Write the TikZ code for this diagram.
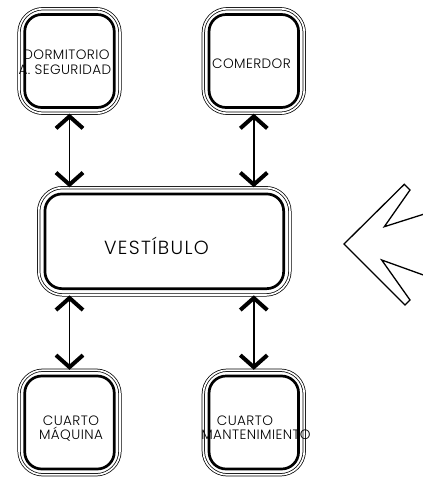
\documentclass[tikz,border=0pt]{standalone}
\usepackage{fontspec}
\setmainfont{Poppins}[UprightFont={* Light}]
\usetikzlibrary{arrows.meta}
\begin{document}
\begin{tikzpicture}[x=1pt,y=-1pt,
  outerline/.style 2 args={draw, double, double distance=1.7pt, line width=0.75pt,
    rounded corners=24pt, inner sep=0pt, minimum width=#1, minimum height=#2},
  innerline/.style 2 args={draw, line width=2.7pt, rounded corners=17pt,
    inner sep=0pt, minimum width=#1, minimum height=#2},
  lbl/.style={inner sep=0pt, anchor=base,
    font=\fontsize{13.6pt}{13.6pt}\selectfont\addfontfeatures{LetterSpace=3}},
  biglbl/.style={inner sep=0pt, anchor=base,
    font=\fontsize{19pt}{19pt}\selectfont\addfontfeatures{LetterSpace=7}},
  barb/.tip={Straight Barb[length=12pt,width=27pt,line width=4pt]},
  link/.style={line width=1.5pt, barb-barb},
  bigarrow/.style={line width=1.3pt, line join=miter}
]
\useasboundingbox (0,0) rectangle (423,477);

% rooms: outer double thin line + inner thick line
\node[outerline={101pt}{104.6pt}] (dorm) at (69.5,61) {};
\node[innerline={89.5pt}{93pt}] (dormI) at (dorm.center) {};
\node[outerline={101pt}{104.6pt}] (com) at (253.8,61) {};
\node[innerline={89.5pt}{93pt}] (comI) at (com.center) {};
\node[outerline={251.3pt}{107.3pt}] (vest) at (164.3,241.3) {};
\node[innerline={238.7pt}{94.7pt}] (vestI) at (vest.center) {};
\node[outerline={101pt}{104.6pt}] (maq) at (69.5,422.5) {};
\node[innerline={89.5pt}{93pt}] (maqI) at (maq.center) {};
\node[outerline={101pt}{104.6pt}] (mant) at (253.8,422.5) {};
\node[innerline={89.5pt}{93pt}] (mantI) at (mant.center) {};

% labels
\node[lbl] (tdorm1) at (66.5,59.3) {DORMITORIO};
\node[lbl] (tdorm2) at (65,74) {A. SEGURIDAD};
\node[lbl] (tcom) at (251.5,68.3) {COMERDOR};
\node[biglbl] (tvest) at (156.5,254) {VESTÍBULO};
\node[lbl] (tmaq1) at (71,425.7) {CUARTO};
\node[lbl] (tmaq2) at (71,439) {MÁQUINA};
\node[lbl] (tmant1) at (245,425.7) {CUARTO};
\node[lbl] (tmant2) at (256,439) {MANTENIMIENTO};

% connectors
\draw[link] (dorm.south) -- (dorm.south |- vest.north);
\draw[link] (com.south) -- (com.south |- vest.north);
\draw[link] (maq.north |- vest.south) -- (maq.north);
\draw[link] (mant.north |- vest.south) -- (mant.north);

% big entrance arrow
\begin{scope}
\clip (0,0) rectangle (423,477);
\draw[bigarrow] (430,212.2) -- (384.3,226.7) -- (410,190) -- (404.3,184.3)
  -- (344,244) -- (405,305) -- (410,300) -- (381.7,260) -- (430,277.4);
\end{scope}
\end{tikzpicture}
\end{document}
